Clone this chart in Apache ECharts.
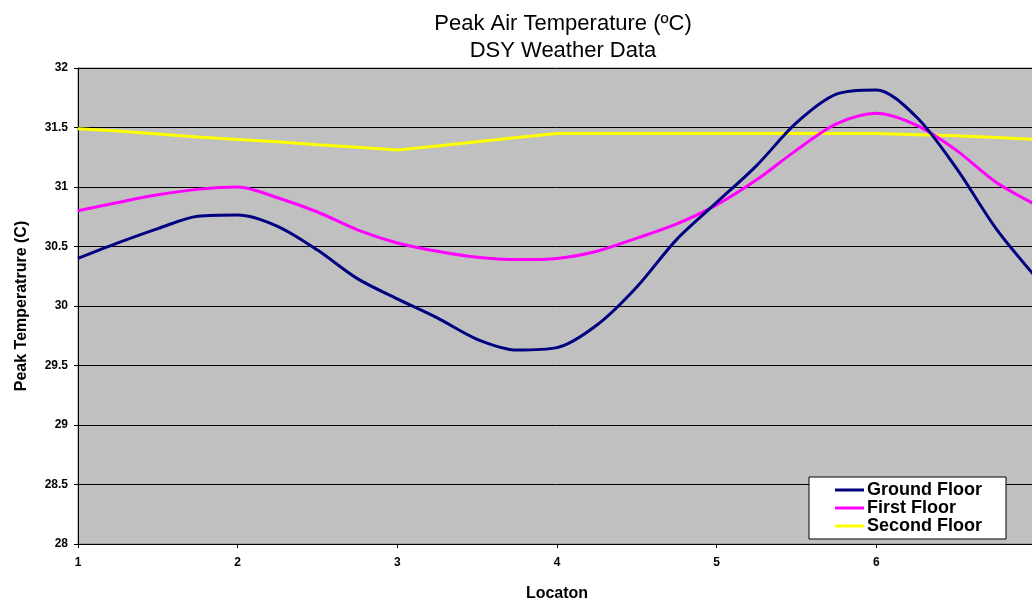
<!DOCTYPE html>
<html>
<head>
<meta charset="utf-8">
<script src="https://cdn.jsdelivr.net/npm/echarts@6/dist/echarts.min.js"></script>
<style>
  html, body { margin: 0; padding: 0; background: #fff; }
  #chart { width: 1032px; height: 603px; }
</style>
</head>
<body>
<div id="chart"></div>
<script>
// location ticks shown on the x axis
const locationTicks = [1, 2, 3, 4, 5, 6, 7]

// positions along the location axis where the curves were read
const positions = [
  1, 1.25, 1.5, 1.75, 2, 2.25, 2.5, 2.75, 3, 3.25, 3.5, 3.75, 4,
  4.25, 4.5, 4.75, 5, 5.25, 5.5, 5.75, 6, 6.25, 6.5, 6.75, 7,
]

// peak air temperature (C) per floor at each position
const groundFloor = [
  30.40, 30.53, 30.65, 30.755, 30.765, 30.67, 30.47, 30.23, 30.06, 29.90, 29.72, 29.63, 29.65,
  29.84, 30.16, 30.56, 30.87, 31.18, 31.54, 31.78, 31.815, 31.59, 31.16, 30.65, 30.24,
]
const firstFloor = [
  30.80, 30.87, 30.935, 30.98, 31.00, 30.91, 30.79, 30.64, 30.53, 30.46, 30.41, 30.39, 30.40,
  30.46, 30.57, 30.69, 30.85, 31.06, 31.31, 31.53, 31.62, 31.52, 31.31, 31.04, 30.85,
]
const secondFloor = [
  31.49, 31.47, 31.445, 31.42, 31.40, 31.38, 31.355, 31.335, 31.31, 31.345, 31.38, 31.415, 31.45,
  31.45, 31.45, 31.45, 31.45, 31.45, 31.45, 31.45, 31.45, 31.44, 31.43, 31.415, 31.40,
]

const yTicks = { min: 28, max: 32, step: 0.5 }

const font = '"Liberation Sans", Arial, sans-serif'

const pairs = (vals) => positions.map((x, i) => [x, vals[i]])

const chart = echarts.init(document.getElementById('chart'))

chart.setOption({
  backgroundColor: '#ffffff',
  animation: false,
  title: {
    text: 'Peak Air Temperature (ºC)\nDSY Weather Data',
    left: 558,
    top: 5,
    textAlign: 'center',
    textStyle: {
      fontFamily: font,
      fontSize: 22,
      fontWeight: 'normal',
      color: '#000',
      lineHeight: 27,
    },
  },
  grid: {
    left: 78,
    right: -4,
    top: 68,
    bottom: 59,
    outerBoundsMode: 'none',
    containLabel: false,
    show: true,
    backgroundColor: '#c0c0c0',
    borderColor: '#808080',
    borderWidth: 1,
  },
  legend: {
    orient: 'vertical',
    left: 809,
    top: 477,
    padding: [4, 24, 4, 26],
    itemGap: 0,
    itemWidth: 29,
    itemHeight: 3,
    icon: 'rect',
    backgroundColor: '#ffffff',
    borderColor: '#000',
    borderWidth: 1,
    borderRadius: 0,
    textStyle: {
      fontFamily: font,
      fontSize: 18,
      fontWeight: 'bold',
      color: '#000',
      lineHeight: 17.5,
      padding: [0, 0, 0, -2],
    },
    data: ['Ground Floor', 'First Floor', 'Second Floor'],
  },
  xAxis: {
    type: 'value',
    min: locationTicks[0],
    max: locationTicks[locationTicks.length - 1],
    interval: 1,
    name: 'Locaton',
    nameLocation: 'middle',
    nameGap: 42,
    nameTextStyle: { fontFamily: font, fontSize: 16, fontWeight: 'bold', color: '#000' },
    axisLine: { lineStyle: { color: '#000', width: 1 } },
    axisTick: { show: true, length: 4, lineStyle: { color: '#000' } },
    axisLabel: {
      fontFamily: font,
      fontSize: 12,
      fontWeight: 'bold',
      color: '#000',
      margin: 13,
      showMaxLabel: true,
      showMinLabel: true,
    },
    splitLine: { show: false },
  },
  yAxis: {
    type: 'value',
    min: yTicks.min,
    max: yTicks.max,
    interval: yTicks.step,
    name: 'Peak Temperatrure (C)',
    nameLocation: 'middle',
    nameGap: 48,
    nameTextStyle: { fontFamily: font, fontSize: 16, fontWeight: 'bold', color: '#000' },
    axisLine: { show: true, lineStyle: { color: '#000', width: 1 } },
    axisTick: { show: true, length: 4, lineStyle: { color: '#000' } },
    axisLabel: {
      fontFamily: font,
      fontSize: 12,
      fontWeight: 'bold',
      color: '#000',
      margin: 10,
    },
    splitLine: { show: true, lineStyle: { color: '#000', width: 1 } },
  },
  series: [
    {
      name: 'Ground Floor',
      type: 'line',
      data: pairs(groundFloor),
      smooth: 0.3,
      showSymbol: false,
      lineStyle: { color: '#000080', width: 3 },
      itemStyle: { color: '#000080' },
      z: 4,
    },
    {
      name: 'First Floor',
      type: 'line',
      data: pairs(firstFloor),
      smooth: 0.3,
      showSymbol: false,
      lineStyle: { color: '#ff00ff', width: 3 },
      itemStyle: { color: '#ff00ff' },
      z: 3,
    },
    {
      name: 'Second Floor',
      type: 'line',
      data: pairs(secondFloor),
      showSymbol: false,
      lineStyle: { color: '#ffff00', width: 3 },
      itemStyle: { color: '#ffff00' },
      z: 2,
    },
  ],
})
</script>
</body>
</html>
